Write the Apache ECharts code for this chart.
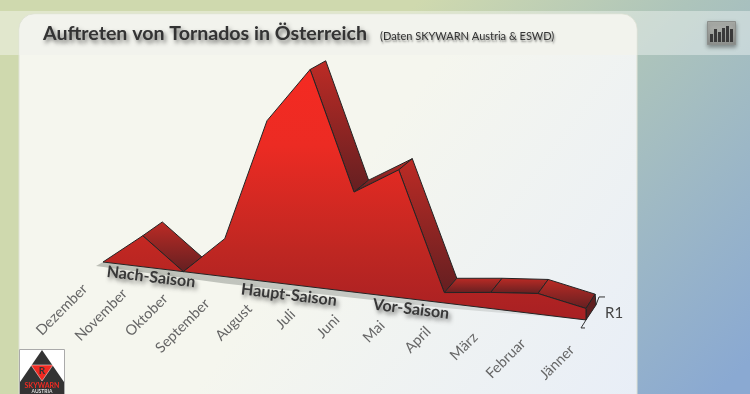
<!DOCTYPE html>
<html>
<head>
<meta charset="utf-8">
<title>Auftreten von Tornados in Österreich</title>
<script src="https://cdn.jsdelivr.net/npm/echarts@6/dist/echarts.min.js"></script>
<style>
  html, body { margin: 0; padding: 0; background: #cfd9ae; }
  #main { width: 750px; height: 394px; }
</style>
</head>
<body>
<div id="main"></div>
<script>
// months run backwards, as in the original chart
var months = ['Dezember', 'November', 'Oktober', 'September', 'August', 'Juli', 'Juni', 'Mai', 'April', 'März', 'Februar', 'Jänner'];
var tornados = [0, 2.7, 0, 3.3, 14, 18.9, 8.7, 11.1, 0.9, 1.4, 1.8, 1];
var seasons = ['Nach-Saison', 'Haupt-Saison', 'Vor-Saison'];
var seriesName = 'R1';

var chart = echarts.init(document.getElementById('main'));
var G = echarts.graphic;
var FONT = 'Lato, "Open Sans", sans-serif';
var LG = G.LinearGradient;

// fake 3d: slope of the floor, perspective of the x axis, depth of the wall
var slope = 0.12, warp = 0.104;

function project(api, i, v) {
  var p = api.coord([i, v]);
  var a = api.coord([0, 0]), b = api.coord([months.length - 1, 0]);
  var w = b[0] - a[0];
  var t = (p[0] - a[0]) / w;
  var x = a[0] + w * (t + warp * t * (t - 1));
  return [x, p[1] + (x - a[0]) * slope];
}
// the extrusion goes to a vanishing point, higher points get a shorter offset
function back(api, i, v) {
  var f = project(api, i, v), z = project(api, i, 0);
  var h = z[1] - f[1];
  return [f[0] + 20.5 - 0.0235 * (f[0] - 103), f[1] - 14.6 + 0.027 * h];
}

var edge = { stroke: '#242424', lineWidth: 1 };

function drawWalls(params, api) {
  var i = api.value(0);
  if (i >= months.length - 1) {
    // closing face at the right end
    var f0 = project(api, i, 0), f1 = project(api, i, api.value(1));
    var b1 = back(api, i, api.value(1)), b0 = [f0[0] + 10, f0[1] - 15];
    return {
      type: 'polygon', shape: { points: [f0, f1, b1, b0] },
      style: { fill: '#5f1f20', stroke: edge.stroke, lineWidth: 1 }
    };
  }
  var a = project(api, i, tornados[i]), b = project(api, i + 1, tornados[i + 1]);
  var ba = back(api, i, tornados[i]), bb = back(api, i + 1, tornados[i + 1]);
  var sx = b[0] - a[0], sy = b[1] - a[1], ox = bb[0] - b[0], oy = bb[1] - b[1];
  if (sx * oy - sy * ox > -100) return; // wall faces away
  return {
    type: 'polygon', shape: { points: [a, b, bb, ba] },
    style: {
      fill: new LG(0, 0, 0, 1, [{ offset: 0, color: '#bd2b25' }, { offset: 1, color: '#641f21' }]),
      stroke: edge.stroke, lineWidth: 1
    }
  };
}

function drawFront(params, api) {
  if (api.value(0) !== 0) return;
  var pts = [];
  tornados.forEach(function (v, i) { pts.push(project(api, i, v)); });
  pts.push(project(api, tornados.length - 1, 0));
  var start = project(api, 0, 0);
  var end = pts[pts.length - 1];
  var m1 = project(api, 3, 0), m2 = project(api, 8, 0);
  return {
    type: 'group',
    children: [
      // soft shadow below the floor edge
      {
        type: 'polygon', z2: 0,
        shape: { points: [[start[0] - 7, start[1] + 4], [m1[0], m1[1] + 7], [m2[0], m2[1] + 5], end, start] },
        style: {
          fill: new LG(0, 0, 1, 0, [{ offset: 0, color: '#bcbfb6' }, { offset: 0.55, color: '#c6c9c4' }, { offset: 1, color: '#e2e6ea' }])
        }
      },
      {
        type: 'polygon', z2: 1, shape: { points: pts },
        style: {
          fill: new LG(0, 0, 0, 1, [
            { offset: 0, color: '#f52a22' }, { offset: 0.3, color: '#ec2b23' },
            { offset: 0.72, color: '#bf2722' }, { offset: 1, color: '#a72023' }
          ]),
          stroke: edge.stroke, lineWidth: 1
        }
      }
    ]
  };
}

function drawLabels(params, api) {
  var i = api.value(0);
  var p = project(api, i, 0);
  var t = i / (months.length - 1);
  return {
    type: 'text', x: p[0] - 18 + 4 * t * t, y: p[1] + 24.5 + 3 * t * t, rotation: Math.PI / 4,
    style: { text: months[i], font: '14.5px ' + FONT, fill: '#666', align: 'right', verticalAlign: 'middle' }
  };
}

function drawSeriesAxis(params, api) {
  if (api.value(0) !== months.length - 1) return;
  var f = project(api, months.length - 1, 0);
  var b = [f[0] + 10, f[1] - 15];
  var line = { stroke: '#333', lineWidth: 1, fill: null };
  return {
    type: 'group',
    children: [
      { type: 'polyline', shape: { points: [[f[0], f[1]], [f[0] - 5, f[1] + 8], [f[0] - 1, f[1] + 8]] }, style: line },
      { type: 'polyline', shape: { points: [[b[0], b[1]], [b[0] + 3, b[1] - 8], [b[0] + 9, b[1] - 8]] }, style: line },
      { type: 'text', x: b[0] + 9, y: b[1] + 8, style: { text: seriesName, font: '15px ' + FONT, fill: '#444', align: 'left', verticalAlign: 'middle' } }
    ]
  };
}

var rows = tornados.map(function (v, i) { return [i, v]; });

function customSeries(fn, z) {
  return { type: 'custom', coordinateSystem: 'cartesian2d', renderItem: fn, data: rows, z: z, silent: true, clip: false, animation: false, encode: { x: 0, y: 1 } };
}

var shadowText = { textShadowColor: 'rgba(0,0,0,0.55)', textShadowBlur: 4, textShadowOffsetX: 2, textShadowOffsetY: 3 };

function seasonText(text, x, y) {
  return {
    type: 'text', x: x, y: y, rotation: -0.12, z: 20,
    style: Object.assign({ text: text, font: 'bold 16px ' + FONT, fill: '#383838', align: 'center', verticalAlign: 'middle' }, shadowText)
  };
}

var logoTop = 349;

option = {
  animation: false,
  grid: { left: 103, right: 164, top: 32, bottom: 132 },
  xAxis: { type: 'category', data: months, boundaryGap: false, show: false },
  yAxis: { type: 'value', min: 0, max: 20, show: false },
  graphic: [
    // page background
    { type: 'rect', z: -10, shape: { x: 0, y: 0, width: 750, height: 394 },
      style: { fill: new LG(420, 0, 770, 340, [{ offset: 0, color: '#cfd9ae' }, { offset: 0.4, color: '#adc4bb' }, { offset: 1, color: '#8aa9d2' }], true) } },
    { type: 'rect', z: -9, shape: { x: 0, y: 0, width: 19, height: 394 }, style: { fill: '#cfd9ae' } },
    // header band
    { type: 'rect', z: -8, shape: { x: 0, y: 11, width: 750, height: 44 }, style: { fill: 'rgba(255,255,255,0.38)' } },
    // panel
    { type: 'rect', z: -7, shape: { x: 19, y: 14, width: 618, height: 390, r: [15, 15, 0, 0] },
      style: { fill: new LG(350, 180, 640, 394, [{ offset: 0, color: '#f5f6ee' }, { offset: 1, color: '#e8eef7' }], true), stroke: '#dfe2d5', lineWidth: 1 } },
    { type: 'rect', z: -6, shape: { x: 19.5, y: 14.5, width: 617, height: 40.5, r: [15, 15, 0, 0] }, style: { fill: '#f2f3ed' } },
    // title
    { type: 'text', x: 43, y: 34, z: 20,
      style: Object.assign({ text: 'Auftreten von Tornados in Österreich', font: 'bold 19.6px ' + FONT, fill: '#333', verticalAlign: 'middle' }, shadowText) },
    { type: 'text', x: 380, y: 36, z: 20,
      style: Object.assign({ text: '(Daten SKYWARN Austria & ESWD)', font: '11px ' + FONT, fill: '#333', verticalAlign: 'middle' }, { textShadowColor: 'rgba(0,0,0,0.45)', textShadowBlur: 2, textShadowOffsetX: 1, textShadowOffsetY: 2 }) },
    seasonText(seasons[0], 151, 277),
    seasonText(seasons[1], 289, 295),
    seasonText(seasons[2], 411, 309),
    // chart icon top right
    { type: 'rect', z: 5, shape: { x: 707.5, y: 21.5, width: 28, height: 23 },
      style: { fill: new LG(0, 0, 0, 1, [{ offset: 0, color: '#b2b5b0' }, { offset: 1, color: '#8f928f' }]), stroke: '#8c8f8c', lineWidth: 1, shadowColor: 'rgba(0,0,0,0.35)', shadowBlur: 4, shadowOffsetY: 2 } },
    { type: 'rect', z: 6, shape: { x: 710, y: 34, width: 3, height: 8 }, style: { fill: '#3a3a3a' } },
    { type: 'rect', z: 6, shape: { x: 714, y: 29, width: 3, height: 13 }, style: { fill: '#3a3a3a' } },
    { type: 'rect', z: 6, shape: { x: 718, y: 32, width: 3, height: 10 }, style: { fill: '#3a3a3a' } },
    { type: 'rect', z: 6, shape: { x: 722, y: 28, width: 3, height: 14 }, style: { fill: '#3a3a3a' } },
    { type: 'rect', z: 6, shape: { x: 726, y: 26, width: 3, height: 16 }, style: { fill: '#3a3a3a' } },
    { type: 'rect', z: 6, shape: { x: 730, y: 29, width: 3, height: 13 }, style: { fill: '#3a3a3a' } },
    // logo
    { type: 'rect', z: 5, shape: { x: 19.5, y: logoTop + 0.5, width: 45, height: 45 }, style: { fill: '#fff', stroke: '#aaa', lineWidth: 1 } },
    { type: 'polygon', z: 6, shape: { points: [[42, logoTop + 1], [64, logoTop + 33], [20, logoTop + 33]] }, style: { fill: '#333' } },
    { type: 'polygon', z: 7, shape: { points: [[31, logoTop + 16], [53, logoTop + 16], [42, logoTop + 32]] }, style: { fill: '#f02a22', stroke: '#fff', lineWidth: 0.5 } },
    { type: 'text', x: 42, y: logoTop + 22, z: 8, style: { text: 'R', font: 'bold 10px ' + FONT, fill: '#333', align: 'center', verticalAlign: 'middle' } },
    { type: 'rect', z: 6, shape: { x: 20, y: logoTop + 33, width: 44, height: 12 }, style: { fill: '#333' } },
    { type: 'text', x: 42, y: logoTop + 37, z: 8, style: { text: 'SKYWARN', font: 'bold 7px ' + FONT, fill: '#f02a22', align: 'center', verticalAlign: 'middle' } },
    { type: 'text', x: 42, y: logoTop + 42.5, z: 8, style: { text: 'AUSTRIA', font: 'bold 5px ' + FONT, fill: '#ddd', align: 'center', verticalAlign: 'middle' } }
  ],
  series: [
    customSeries(drawWalls, 2),
    customSeries(drawFront, 3),
    customSeries(drawLabels, 4),
    customSeries(drawSeriesAxis, 4)
  ]
};
chart.setOption(option);
</script>
</body>
</html>
